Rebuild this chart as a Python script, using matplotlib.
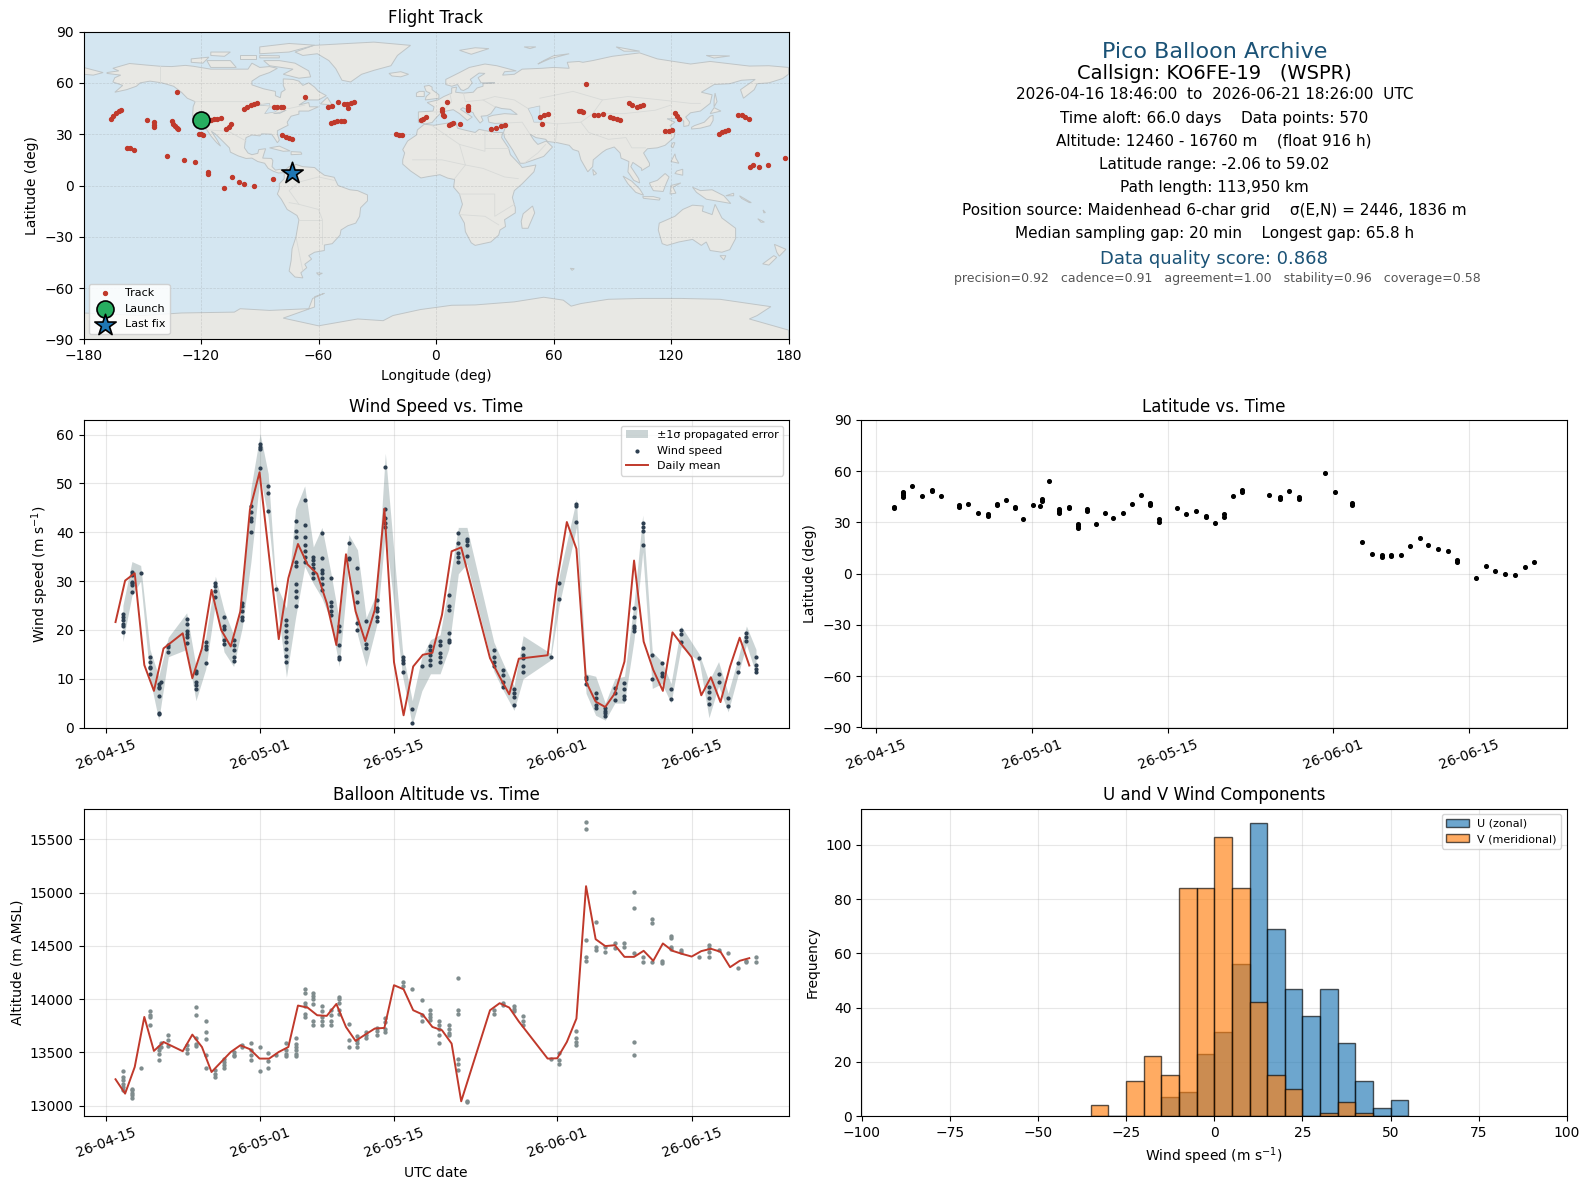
import matplotlib
matplotlib.use("Agg")
import matplotlib.dates as mdates
import matplotlib.pyplot as plt
import numpy as np
from matplotlib.patches import Polygon

# ============================================================
# Data
# ============================================================
DATE_ZERO = "2026-04-15"

# --- Daily means ---
DAILY_DATES = [
    "04-16", "04-17", "04-18", "04-19", "04-20", "04-21", "04-23", "04-24", "04-25", "04-26",
    "04-27", "04-28", "04-29", "04-30", "05-01", "05-02", "05-03", "05-04", "05-05", "05-06",
    "05-07", "05-08", "05-09", "05-10", "05-11", "05-12", "05-13", "05-14", "05-15", "05-16",
    "05-17", "05-18", "05-19", "05-20", "05-21", "05-22", "05-25", "05-26", "05-27", "05-28",
    "05-31", "06-01", "06-02", "06-03", "06-04", "06-05", "06-06", "06-07", "06-08", "06-09",
    "06-10", "06-11", "06-12", "06-13", "06-14", "06-15", "06-16", "06-17", "06-18", "06-19",
    "06-20", "06-21",
]
DAILY_WIND = [
    21.6, 30.1, 31.6, 12.8, 7.5, 16.2, 19.3, 10.1, 16.2, 28.2,
    20.0, 16.6, 23.8, 44.7, 52.3, 35.0, 18.1, 30.6, 37.6, 33.4,
    31.5, 25.5, 16.9, 35.5, 23.8, 17.7, 24.1, 44.8, 13.4, 2.5,
    12.5, 14.9, 15.3, 23.1, 36.1, 36.9, 14.2, 10.4, 6.8, 14.1,
    14.8, 30.3, 42.1, 36.6, 9.4, 5.3, 4.2, 7.0, 13.5, 34.2,
    17.6, 11.8, 7.5, 19.5, 16.9, 14.4, 6.6, 10.3, 5.2, 12.5,
    18.4, 12.7,
]
DAILY_ALT = [
    13248, 13113, 13363, 13833, 13514, 13598, 13511, 13667, 13551, 13316,
    13410, 13504, 13567, 13530, 13442, 13442, 13504, 13551, 13940, 13921,
    13849, 13843, 13955, 13739, 13608, 13667, 13724, 13730, 14131, 14093,
    13896, 13855, 13739, 13708, 13583, 13041, 13896, 13962, 13921, 13790,
    13442, 13445, 13598, 13818, 15061, 14563, 14498, 14507, 14397, 14397,
    14454, 14360, 14523, 14454, 14425, 14400, 14451, 14473, 14445, 14300,
    14360, 14385,
]

# --- Wind speed fixes, grouped by time (days after DATE_ZERO) ---
WIND_DAYS = [
    1.77, 2.71, 3.62, 4.59, 5.5, 5.7, 6.5, 8.41, 9.38, 10.4, 11.4, 12.3, 13.3, 14.2, 15.1, 16.06,
    16.9, 17.7, 18.8, 19.75, 20.7, 21.6, 22.5, 23.4, 24.3, 25.3, 26.2, 27.1, 28.2, 29.1, 30.9,
    31.9, 32.9, 33.8, 34.8, 35.7, 36.7, 37.6, 40.4, 41.4, 42.5, 43.45, 46.3, 47.2, 49.0, 50.0,
    51.0, 52.0, 53.0, 54.0, 55.0, 55.9, 56.9, 57.9, 58.85, 59.9, 61.8, 62.8, 63.8, 64.8, 65.8,
    66.7, 67.7,
]
WIND_VALUES = [
    [23.3, 22.7, 22.0, 21.3, 20.8, 19.5], [31.8, 31.2, 29.9, 29.6, 29.2, 27.7], [31.6],
    [14.4, 13.4, 12.3, 12.1, 11.0], [8.9, 8.4, 8.0, 6.4, 3.0, 2.7], [9.4], [16.9, 16.4, 15.5],
    [22.2, 21.2, 19.7, 19.2, 18.6, 17.3], [11.6, 11.1, 9.4, 8.7, 7.9], [17.6, 16.8, 16.1, 13.2],
    [29.6, 29.0, 27.9, 26.7], [22.6, 20.7, 20.1, 17.9, 17.1], [17.9, 16.9, 15.9, 14.4, 13.7],
    [25.5, 24.8, 23.8, 22.6, 22.1], [45.3, 44.1, 42.9, 42.3, 40.1], [58.0, 57.5, 57.0, 53.2],
    [49.5, 48.1, 44.3], [28.4], [22.1, 21.0, 19.7, 18.6, 17.6, 16.0, 14.7, 13.4],
    [42.3, 40.2, 39.0, 34.0, 33.0, 29.4, 27.9, 26.8, 24.8], [46.7, 41.5, 39.0, 37.3, 36.1, 35.0, 34.0],
    [35.0, 34.4, 33.6, 32.7, 31.6, 30.6], [39.9, 34.7, 32.3, 31.6, 30.6, 29.5, 28.2],
    [30.6, 25.8, 24.8, 23.8, 23.1], [20.8, 19.7, 16.9, 14.4, 14.0], [37.8, 34.7, 34.5],
    [32.7, 27.7, 25.8, 21.4, 20.0], [21.8, 17.1, 16.2], [26.2, 24.5, 23.8, 22.7, 21.9],
    [53.4, 44.7, 42.9, 41.9, 41.1], [14.5, 13.8, 13.2, 11.3], [3.7, 1.0], [12.5],
    [16.6, 15.9, 14.9, 13.8, 12.8], [17.8, 16.9, 15.3, 14.5, 13.5], [27.2, 24.8, 24.1, 19.3, 17.9, 17.5],
    [39.9, 37.8, 35.8, 35.0, 34.0], [38.6, 38.2, 37.3, 35.2], [15.9, 14.5, 13.5, 12.6],
    [11.8, 10.8, 9.4, 8.4], [7.8, 7.0, 6.2, 4.7], [16.2, 14.9, 14.2, 12.6, 11.3], [14.5],
    [29.7, 26.3], [45.7, 45.3, 42.1], [10.3, 9.9, 9.0], [7.0, 6.0, 4.6, 3.9], [3.9, 3.4, 2.9, 2.4],
    [8.0, 7.0, 5.6], [9.2, 7.8, 6.5, 5.8], [24.5, 22.7, 20.8, 20.3, 19.8], [41.8, 41.1, 40.3, 37.4],
    [14.9, 9.9], [13.2, 11.1, 10.6], [7.8, 5.8], [20.0, 19.2, 17.6], [14.2], [8.4, 7.3, 6.0, 4.9],
    [10.9, 9.4], [6.0, 4.4], [13.2, 11.4], [19.3, 18.5, 17.8], [14.5, 12.8, 11.9, 11.3],
]

# --- +/-1 sigma band ---
BAND_DAYS = [
    1.77, 2.71, 3.62, 4.59, 5.5, 6.5, 8.41, 9.38, 10.4, 11.4, 12.3, 13.3, 14.2, 15.1, 16.06, 16.9,
    17.7, 18.8, 19.75, 20.7, 21.6, 22.5, 23.4, 24.3, 25.3, 26.2, 27.1, 28.2, 29.1, 30.9, 31.9,
    32.9, 33.8, 34.8, 35.7, 36.7, 37.6, 40.4, 41.4, 42.5, 43.45, 46.3, 47.2, 49.0, 50.0, 51.0,
    52.0, 53.0, 54.0, 55.0, 55.9, 56.9, 57.9, 58.85, 59.9, 61.8, 62.8, 63.8, 64.8, 65.8, 66.7, 67.7,
]
BAND_LOW = [
    17.6, 27.0, 30.0, 10.0, 1.5, 14.5, 16.0, 5.5, 12.0, 25.5, 15.5, 12.5, 20.5, 33.9, 51.5, 43.0,
    27.5, 10.3, 22.5, 33.0, 29.5, 26.5, 22.0, 12.5, 33.5, 19.0, 12.5, 21.0, 40.0, 10.5, 0.5,
    7.5, 11.0, 11.0, 16.0, 31.5, 33.5, 11.5, 7.5, 3.5, 10.0, 13.8, 25.0, 41.0, 7.0, 2.5,
    1.5, 5.0, 5.0, 18.0, 36.0, 8.0, 9.0, 5.0, 16.5, 13.5, 2.0, 8.5, 3.2, 10.5, 17.0, 11.0,
]
BAND_HIGH = [
    25.0, 34.0, 33.2, 16.0, 10.5, 18.5, 23.5, 12.5, 18.5, 31.0, 24.0, 19.0, 27.0, 49.0, 60.2, 52.0,
    29.5, 24.5, 44.8, 49.5, 37.0, 41.0, 32.0, 22.0, 39.5, 36.4, 22.5, 27.5, 56.2, 15.5, 5.5,
    14.5, 18.0, 19.0, 29.0, 41.0, 41.0, 17.5, 13.0, 8.5, 18.8, 15.2, 31.0, 46.8, 11.0, 10.5,
    5.0, 10.0, 10.5, 25.5, 43.5, 15.5, 13.5, 9.0, 20.8, 15.0, 9.5, 13.5, 7.0, 14.0, 20.8, 16.0,
]

# --- Altitude fixes ---
ALT_DAYS = [
    1.77, 2.71, 3.62, 4.59, 5.5, 5.75, 6.5, 8.41, 9.38, 10.4, 11.4, 12.3, 13.3, 14.2, 15.1, 16.06,
    16.9, 17.7, 18.8, 19.75, 20.7, 21.6, 22.5, 23.4, 24.3, 25.3, 26.2, 27.1, 28.2, 29.1, 30.9,
    31.9, 32.9, 33.8, 34.7, 35.7, 36.7, 37.6, 40.4, 41.4, 42.5, 43.45, 46.3, 47.2, 49.0, 50.0,
    51.0, 52.0, 53.0, 54.0, 55.0, 55.9, 56.9, 57.9, 58.85, 59.9, 61.8, 62.8, 63.8, 64.8, 65.8,
    66.7, 67.7,
]
ALT_VALUES = [
    [13329, 13269, 13238, 13207, 13175, 13144], [13160, 13144, 13119, 13097, 13072], [13357],
    [13890, 13855, 13833, 13755], [13551, 13520, 13489, 13432], [13592, 13551], [13667, 13620, 13561],
    [13567, 13529, 13498], [13931, 13855, 13636, 13583, 13561], [13799, 13692, 13630, 13473, 13357],
    [13332, 13301, 13266], [13442, 13410, 13385, 13354], [13504, 13479, 13467], [13567, 13551],
    [13592, 13520, 13473, 13432], [13555, 13329], [13498, 13423, 13357], [13473],
    [13589, 13520, 13489, 13467], [13639, 13583, 13551, 13520, 13489, 13467],
    [14100, 14062, 13968, 13937, 13865, 13833], [14062, 14031, 13999, 13959, 13799, 13755],
    [13934, 13890, 13833, 13793, 13755], [13896, 13849, 13799, 13755],
    [14024, 13999, 13968, 13896, 13865], [13771, 13614, 13551], [13655, 13614, 13592, 13551],
    [13692, 13667, 13636], [13730, 13699, 13667], [13824, 13786, 13724, 13692], [14162, 14125],
    [14093], [13996, 13849, 13799], [13896, 13865, 13833, 13802], [13799, 13755, 13724, 13661, 13592],
    [13755, 13717, 13686, 13667], [14203, 13896, 13865, 13435, 13395, 13332], [13041, 13034],
    [13896, 13865], [13962, 13949], [13937, 13912, 13887], [13840, 13799, 13755], [13435],
    [13498, 13432, 13395], [13699, 13639, 13598, 13567], [15660, 15594, 14560, 14397, 14357],
    [14729, 14491, 14466], [14485, 14444], [14523, 14482], [14523, 14491],
    [15008, 14852, 14438, 13598, 13479], [14400, 14350], [14748, 14711, 14350], [14357, 14344],
    [14595, 14570, 14491, 14469], [14466, 14444], [14400], [14507, 14476, 14444, 14400], [14463],
    [14438], [14297], [14357, 14350], [14400, 14350],
]

# --- Latitude fixes ---
LAT_DAYS = [
    1.88, 2.8, 3.7, 4.7, 5.7, 6.7, 8.5, 9.5, 10.5, 11.5, 12.4, 13.35, 14.3, 15.1, 16.1, 16.9, 17.07,
    17.75, 18.85, 19.8, 20.8, 21.65, 22.6, 23.5, 24.4, 25.4, 26.3, 27.25, 28.2, 29.1, 30.9, 31.9,
    32.9, 33.9, 34.9, 35.8, 36.7, 37.6, 40.4, 41.5, 42.5, 43.45, 46.2, 47.15, 49.0, 49.95, 51.0,
    52.0, 53.0, 54.0, 54.9, 55.9, 56.8, 57.8, 58.8, 59.8, 61.7, 62.7, 63.7, 64.7, 65.7, 66.7, 67.7,
]
LAT_VALUES = [
    [38.2, 38.8], [44.7, 46.0, 47.0, 48.0], [51.2], [45.7], [48.2, 49.0], [45.5], [39.2, 40.0], [40.8],
    [35.7], [34.0, 35.0], [40.4, 41.0], [43.1], [38.2, 39.0], [31.8], [40.0], [39.6], [42.5, 44.0],
    [54.3], [35.7, 36.9, 38.0], [38.2, 39.0], [26.5, 27.8, 29.0], [37.0, 37.8], [29.4], [35.5], [32.9], [35.3],
    [40.8], [46.3], [40.0, 41.3], [30.5, 32.0], [38.2], [34.7], [37.0], [33.4, 34.0], [29.6],
    [33.5, 35.0], [45.3], [47.6, 48.8], [46.1], [43.8, 44.8], [48.2], [43.9, 44.7], [58.8], [47.6],
    [40.0, 41.5], [18.6], [11.6], [10.0, 10.8], [10.5, 11.2], [11.2], [16.1], [21.2], [17.0], [14.7],
    [13.1], [7.0, 8.0], [-2.3], [4.5], [1.8], [0.0], [-1.0], [3.7], [7.1],
]

# --- Flight track ---
TRACK_LON = [
    -166.1, -164.8, -163.4, -162.1, -161.0, -158.0, -156.3, -154.2, -147.8, -143.8, -143.8, -143.8,
    -134.6, -134.1, -133.4, -132.4, -131.7, -132.1, -137.4, -128.7, -123.0, -116.4, -116.4,
    -121.0, -120.0, -118.8, -115.0, -113.4, -111.6, -110.0, -107.0, -105.7, -104.5,
    -98.0, -96.3, -94.7, -92.9, -91.3, -82.7, -81.0, -79.3, -78.1, -66.7, -78.5, -76.8, -75.1, -73.4,
    -104.0, -100.4, -97.9, -93.0, -108.1, -83.1, -55.0, -53.3, -50.0, -53.8, -52.1, -50.4, -48.7, -47.0,
    -47.0, -45.3, -43.6, -41.9, -44.8, -20.6, -18.9, -17.2, -7.8, -6.5, -5.3,
    5.4, 2.9, 3.1, 3.4, 4.3, 6.5, 7.6, 8.9, 12.3, 16.5, 16.4, 16.2,
    28.1, 30.6, 33.2, 35.4, 53.1, 55.0, 57.0, 54.3, 73.2, 74.2, 75.2, 76.8, 80.9, 82.9, 85.1,
    89.0, 90.6, 92.3, 94.0, 98.4, 99.9, 102.6, 104.2, 105.5, 117.1, 118.8, 120.5, 122.2, 123.2, 124.3,
    144.3, 146.0, 147.7, 149.1, 154.0, 156.1, 158.0, 159.7, 164.1, 160.5, 161.7, 164.8, 169.5, 178.4,
]
TRACK_LAT = [
    39.0, 40.8, 42.1, 43.3, 44.3, 21.9, 21.7, 21.0, 38.4, 37.0, 35.6, 34.3,
    37.5, 35.7, 34.5, 33.6, 32.8, 54.4, 17.0, 15.0, 13.5, 7.8, 6.9,
    30.3, 30.0, 29.7, 38.4, 38.6, 39.0, 39.4, 32.8, 34.3, 35.7,
    44.5, 45.6, 46.8, 47.8, 48.4, 45.6, 45.6, 45.6, 45.6, 51.5, 29.3, 28.5, 27.9, 27.3,
    4.7, 1.8, 0.6, -0.4, -1.6, 3.9, 45.8, 46.4, 48.9, 36.7, 37.1, 37.5, 37.5, 37.7,
    47.4, 47.8, 48.2, 48.7, 45.4, 29.9, 29.5, 29.7, 38.2, 39.0, 40.2,
    48.6, 44.5, 43.3, 41.0, 40.4, 35.1, 35.7, 36.3, 35.7, 46.4, 45.2, 43.9,
    32.8, 33.7, 34.7, 35.1, 40.2, 41.0, 41.7, 35.7, 43.3, 43.3, 42.9, 59.1, 41.0, 41.2, 41.7,
    39.8, 39.2, 38.8, 38.4, 48.0, 47.2, 46.0, 46.4, 47.2, 31.6, 32.0, 32.4, 42.3, 40.6, 38.6,
    30.2, 31.0, 31.8, 32.6, 41.0, 41.0, 39.8, 39.0, 18.7, 10.6, 11.7, 11.1, 11.7, 16.2,
]
LAUNCH_LON, LAUNCH_LAT = -119.8, 38.4
LAST_LON, LAST_LAT = -73.4, 7.4

# --- Wind component histogram ---
BIN_EDGES = [-35, -30, -25, -20, -15, -10, -5, 0, 5, 10, 15, 20, 25, 30, 35, 40, 45, 50]
U_COUNTS = [0, 0, 0, 0, 7, 9, 23, 31, 56, 108, 69, 47, 37, 47, 27, 13, 3, 6]
V_COUNTS = [4, 0, 13, 22, 15, 84, 84, 103, 84, 42, 15, 10, 0, 1, 5, 1, 0, 0]

# --- Summary panel ---
SUMMARY_LINES = [
    "2026-04-16 18:46:00  to  2026-06-21 18:26:00  UTC",
    "Time aloft: 66.0 days    Data points: 570",
    "Altitude: 12460 - 16760 m    (float 916 h)",
    "Latitude range: -2.06 to 59.02",
    "Path length: 113,950 km",
    "Position source: Maidenhead 6-char grid    σ(E,N) = 2446, 1836 m",
    "Median sampling gap: 20 min    Longest gap: 65.8 h",
]
TICK_DATES = ["2026-04-15", "2026-05-01", "2026-05-15", "2026-06-01", "2026-06-15"]

# --- Coarse map outlines (lon, lat) ---
LAND = [
    # North America
    [(-168, 66), (-162, 67), (-165, 68.5), (-156.5, 71.3), (-148, 70.4), (-141, 69.7), (-135, 69.5), (-128, 70.2),
     (-124, 69.7), (-115, 68), (-108, 68), (-102, 68), (-96, 68), (-94, 71.5), (-90, 69), (-85, 69.5), (-81, 68.5),
     (-85, 66), (-90, 64), (-94, 61), (-94, 58.8), (-88, 56.5), (-82, 55), (-82, 52.5), (-79.5, 51.3), (-79, 54.5),
     (-77, 56), (-78, 58.5), (-78, 62.3), (-73, 62), (-70, 61), (-68, 58.5), (-65, 60), (-62, 57.5), (-60, 55),
     (-56, 52.5), (-60, 50), (-66, 50), (-70, 47), (-65, 48.5), (-64.5, 46), (-60, 46), (-65, 43.5), (-70, 43.5),
     (-70, 41.7), (-74, 40.5), (-76, 37), (-75.5, 35.2), (-78, 33.8), (-81, 32), (-81, 30), (-80, 26.5), (-81, 25),
     (-82.7, 28), (-84, 30), (-89, 30.2), (-90, 29), (-94, 29.5), (-97, 28), (-97.5, 25), (-97.8, 22), (-96, 19),
     (-94, 18), (-91, 18.8), (-90.5, 21), (-87, 21.5), (-88, 18), (-88.5, 16), (-84, 15.8), (-83.3, 14.5), (-83.7, 11),
     (-82, 9), (-79.5, 9.5), (-77.5, 8.7), (-78, 7.5), (-80.5, 7.3), (-83, 8.3), (-85.7, 10), (-87.5, 13), (-91, 14),
     (-94, 16), (-97, 15.8), (-101, 17.3), (-105, 19.5), (-105.5, 22), (-109, 26), (-112.5, 30), (-114.7, 31.7),
     (-112, 27), (-110, 23), (-112, 25), (-115, 29), (-117, 32.5), (-120.5, 34.5), (-122.5, 37.5), (-124.3, 40.3),
     (-124, 46), (-123, 49), (-127, 51), (-130, 54.5), (-134, 58), (-140, 60), (-146, 61), (-151, 60), (-153, 58),
     (-158, 56), (-164, 54.5), (-160, 58.5), (-165, 60.5), (-164, 63), (-161, 64.5), (-168, 65.5)],
    # Greenland and the Arctic islands
    [(-62.3, 81.9), (-45, 83), (-31.7, 83.8), (-13, 81.9), (-19.7, 76), (-23, 70), (-31.7, 67.3), (-38, 65), (-43.6, 60.5),
     (-48, 61.5), (-51.2, 68.3), (-54.7, 73), (-60.6, 77), (-68, 76), (-72, 78)],
    [(-80, 73), (-72, 71.5), (-65, 67), (-64, 63.5), (-70, 62.7), (-78, 65), (-73, 68), (-85, 70), (-88, 73)],
    [(-117, 73), (-105, 73), (-102, 69), (-115, 69)],
    [(-90, 77), (-75, 78), (-62, 82), (-75, 83), (-90, 81)],
    [(-125, 74), (-116, 75), (-119, 71.5), (-125, 72)],
    [(-100, 76), (-92, 76), (-92, 74), (-100, 74)],
    [(-115, 78), (-105, 78), (-108, 75.5), (-115, 76)],
    [(-90, 76), (-80, 75.8), (-80, 74.6), (-90, 74.6)],
    # Atlantic and Caribbean islands
    [(-59, 47.7), (-53, 47), (-55.5, 51.5)],
    [(-85, 22), (-80, 23), (-74.5, 20.2), (-78, 20)],
    [(-74, 19.8), (-69, 19.5), (-68.5, 18.3), (-74, 18)],
    [(-24, 65.5), (-18, 66.5), (-14, 65), (-18, 63.5), (-22.5, 64)],
    [(-5.5, 50), (1.5, 51), (1.5, 53), (-2, 56), (-2, 57.5), (-3.5, 58.5), (-6, 58), (-5, 55), (-3, 54), (-5, 52)],
    [(-10, 52), (-6, 52), (-6, 55), (-8.5, 55), (-10, 54)],
    [(12, 79), (20, 80.5), (27, 80), (18, 76.7)],
    [(52, 71), (58, 74), (68, 77), (60, 75.8), (55, 73)],
    [(92, 81), (104, 78.5), (96, 78.5)],
    [(138, 76), (150, 75.7), (142, 74.5)],
    [(45, 81), (51, 81), (48, 80)],
    [(-61, -51), (-58, -51.3), (-60, -52.3)],
    [(68.6, -48.4), (70.6, -48.6), (69.5, -49.6)],
    # South America
    [(-77.5, 8.7), (-75, 11), (-71.5, 12.3), (-68, 11), (-62, 10.5), (-60, 8.5), (-57, 6), (-52, 4.8), (-50, 0),
     (-44, -2.5), (-40, -3), (-35, -5.5), (-35, -9), (-38.5, -13), (-39, -18), (-41, -22), (-45, -23.5), (-48.5, -26),
     (-49, -29), (-53, -34), (-57, -34.8), (-57, -38), (-62, -39), (-65, -41), (-63.5, -43), (-67, -46), (-66, -48),
     (-69, -51), (-68, -54), (-72, -53.5), (-75, -50), (-74, -44), (-73.5, -37), (-71.5, -30), (-70, -20), (-71, -17.5),
     (-76, -14), (-79, -8), (-81, -5), (-80, -2), (-80, 1), (-77.5, 4), (-77.5, 7)],
    # Africa
    [(-6, 35.8), (-1, 35.2), (10, 37.2), (11, 33.5), (15, 32.3), (20, 31), (22, 32.8), (30, 31), (34, 31), (33.5, 28),
     (37, 22), (38, 18), (43, 12), (44, 10.5), (51, 12), (50, 8), (44, 1), (40, -3), (39, -7), (40.5, -13), (40.5, -16),
     (35, -20), (35.5, -24), (32.7, -26), (32, -29), (28, -33), (20, -35), (18, -33.5), (15, -27), (14.5, -22),
     (11.8, -16.5), (13.5, -11), (12, -5), (9, -1), (9.5, 3.5), (6, 4.3), (2, 6.3), (-4, 5.2), (-7.7, 4.4), (-13, 8.5),
     (-17, 12.5), (-17, 15), (-16, 19), (-17, 21), (-14.5, 26), (-10, 29.5), (-9.5, 32.5)],
    [(49.3, -12), (50.4, -16), (47, -25), (44, -25), (43.5, -21), (44.5, -16.5)],
    # Eurasia
    [(-9, 37), (-9, 43), (-1.5, 43.5), (-1, 46), (-4.5, 48.5), (1, 50), (4, 52), (8, 54), (8, 57), (10.5, 57.5),
     (10, 54.5), (14, 54), (19, 54.5), (21, 57), (24, 58), (24, 59.5), (30, 60), (23, 60), (21.5, 63), (25, 65.5),
     (22, 65.7), (17.5, 62), (18.5, 60), (16.5, 57), (14, 55.5), (12.7, 56), (11, 59), (8, 58), (5, 59), (5, 62),
     (12, 66), (17, 69), (25, 71), (31, 70), (41, 67), (35, 66.5), (34, 64.5), (40, 65), (44, 68), (54, 68.5), (60, 69),
     (68, 68.5), (67, 72), (73, 72.5), (75, 72), (80, 73), (90, 75.5), (104, 77.5), (113, 74), (130, 71), (140, 72.5),
     (160, 69.8), (170, 70), (180, 69), (180, 65), (177, 62.5), (170, 60), (164, 59.5), (162.5, 56), (157, 51),
     (155.5, 56), (163, 62), (156, 61.5), (150, 59.5), (142, 59), (135.5, 54.5), (141, 53), (140, 48), (135, 43.5),
     (130, 42.5), (127.5, 40), (129.5, 37), (129, 35), (126.5, 34.5), (126.5, 37.5), (125, 39.5), (121.5, 39), (118, 39),
     (122, 37), (119.5, 35), (122, 31), (121.5, 28), (117, 23.5), (113, 22), (108, 21.5), (106, 19), (109, 13),
     (109, 11.5), (105, 8.7), (105, 10), (100.5, 13.5), (99.5, 11), (103.5, 4), (104, 1.5), (101, 3), (98, 8), (98.5, 14),
     (94.5, 16), (94, 19), (91, 22.5), (87, 21), (85, 19.5), (80.3, 15), (80, 11), (77.5, 8), (74, 15), (72.8, 20), (70, 21),
     (68, 23.5), (62, 25), (57, 25.7), (56, 27), (51, 28), (48, 30), (50, 26.5), (52, 24), (56.3, 26), (59.5, 22.5),
     (55, 17), (45, 13), (43, 13), (39, 21), (35, 28), (34.5, 31), (36, 36.5), (30, 36.3), (27, 37), (26.5, 40), (29, 41),
     (35, 42), (41.5, 41.5), (38, 44.5), (33.5, 45), (30.5, 46), (28, 42), (26, 40.8), (23, 40.5), (24, 38), (22.5, 36.5),
     (19.5, 41), (19, 42.5), (13.7, 45.5), (12.5, 44.5), (18.5, 40), (16, 38), (12, 42), (8.8, 44.3), (3, 43), (0, 39.5),
     (-2, 36.8), (-5.5, 36)],
    [(-180, 65), (-175, 64.5), (-170, 66), (-175, 67.5), (-180, 69)],
    # Asia-Pacific islands
    [(130.5, 33), (135, 33.5), (140, 35), (141.5, 38), (141.5, 41), (140, 40.5), (137, 37), (132, 35), (130.5, 34)],
    [(140, 42), (145.5, 43.5), (142, 45.5)],
    [(142, 46), (143.5, 49), (142.5, 54), (142, 50)],
    [(120, 23), (121, 25), (122, 25), (121, 22)],
    [(120, 14), (122, 18.5), (122.5, 16), (124, 13)],
    [(122, 7), (126, 6), (126, 9.5), (123, 8.5)],
    [(109, 1.5), (113, 3), (117, 7), (119, 5), (117.5, 1), (116, -3.5), (111, -3), (109.5, 0)],
    [(95.5, 5.5), (100, 2.5), (104, -2), (106, -5.7), (102, -4), (98, 1)],
    [(105.5, -6.5), (111, -6.5), (114.5, -7.5), (114, -8.5), (106, -7.5)],
    [(119.5, -5), (120, 0), (125, 1.5), (121, -1), (122.5, -4.5)],
    [(131, -1), (135, -3), (141, -2.5), (147, -6), (150.5, -10.5), (143, -9), (138, -8), (133, -4)],
    [(148, -6), (152, -4.5), (152, -6)],
    [(155, -6), (161, -10), (160, -10), (156, -7.5)],
    [(164.3, -19.4), (167.7, -21.4), (166, -21.5)],
    [(167, -14.3), (168.2, -15.8), (167.4, -16)],
    [(80, 9.5), (82, 7), (80.5, 6)],
    # Australia and New Zealand
    [(114, -22), (113.5, -26), (115.5, -34), (118, -35), (124, -33), (131, -31.5), (135.5, -35), (138, -33), (140, -38),
     (146, -39), (150, -37.5), (153, -31), (153, -25), (146, -19), (142.5, -11), (141, -17), (136, -15), (136.5, -12),
     (131, -11.5), (126, -14), (122, -18)],
    [(145, -41), (148, -41), (147, -43.5)],
    [(172.8, -34.4), (178.7, -37.3), (175.3, -41.3), (174, -39)],
    [(172.5, -41), (174, -42), (170, -46.5), (166.8, -45.8)],
    # Antarctica
    [(-180, -90), (-180, -74.5), (-150, -76), (-130, -74.5), (-103, -74), (-100, -72), (-85, -73), (-65, -72), (-63, -66),
     (-57, -63), (-62, -65), (-62, -71), (-78, -77.5), (-60, -82), (-40, -78), (-27, -79), (-22, -76), (-8, -72.5), (8, -70),
     (20, -69.8), (40, -68), (55, -65.3), (65, -67), (69, -70.5), (74, -69), (88, -66.5), (105, -66),
     (125, -66), (145, -66.5), (160, -69), (171, -70.8), (164, -76), (160, -78), (180, -84.5), (180, -90)],
]
LAKES = [
    [(47, 45), (53, 46.5), (53, 40), (54, 37), (50, 37), (49, 40.5)],
    [(-92, 47), (-85, 48), (-85, 46.5)],
    [(-87.5, 42), (-85, 46), (-80, 45.5), (-82, 43)],
    [(-83, 42), (-79, 43), (-76.5, 44), (-80, 42)],
]
BORDERS = [
    [(-141, 69.7), (-141, 60)],
    [(-123, 49), (-95, 49), (-83, 46), (-75, 45), (-67, 47)],
    [(-117, 32.5), (-106, 31.7), (-97, 26)],
    [(-70, -20), (-58, -20), (-58, -34)],
    [(-75, -10), (-70, -11), (-60, -14), (-58, -20)],
    [(-72, 12), (-70, 2), (-60, 5), (-52, 3)],
    [(-70, 2), (-75, -3), (-70, -11)],
    [(-71.5, -30), (-68, -50)],
    [(-2, 35), (12, 24), (25, 20), (25, 32)],
    [(25, 22), (37, 22)],
    [(12, 24), (15, 12), (24, 10), (35, 5), (42, 4)],
    [(-12, 15), (3, 15), (15, 12)],
    [(9.5, 4), (15, 12)],
    [(12, -5), (30, -5), (30, -18), (40, -11)],
    [(12, -17), (25, -18), (32, -23)],
    [(-1, 43), (3, 43), (8, 49), (7, 54)],
    [(14, 54), (15, 49), (24, 50), (30, 46)],
    [(24, 50), (30, 52), (40, 50), (47, 45)],
    [(53, 51), (70, 55), (85, 50), (98, 52), (115, 50), (130, 48), (135, 48)],
    [(85, 50), (80, 42), (74, 37), (62, 36), (54, 37)],
    [(80, 42), (96, 42), (112, 44), (120, 47)],
    [(74, 37), (78, 31), (88, 27), (97, 28), (100, 22), (107, 22)],
    [(62, 36), (61, 25)],
    [(36, 36.5), (44, 37), (48, 30)],
    [(45, 13), (52, 19), (56, 24)],
]

# ============================================================
# Colours and layout
# ============================================================
RED = "#c0392b"
NAVY = "#2c3e50"
GRAY = "#7f8c8d"
BAND = "#557376"
TITLE_BLUE = "#1a5276"
FIG_W, FIG_H = 1589, 1189
# Latitude has no daily-mean line, so its margin starts later than the other time panels
WIDE_XLIM = ("2026-04-12T16:00", "2026-06-25T02:00")
LAT_XLIM = ("2026-04-13T12:00", "2026-06-25T01:30")


def add_axes_px(fig, left, top, right, bottom):
    return fig.add_axes([left / FIG_W, 1 - bottom / FIG_H, (right - left) / FIG_W, (bottom - top) / FIG_H])


def to_num(days):
    return mdates.date2num(np.datetime64(DATE_ZERO)) + np.array(days, dtype=float)


def flatten(days, groups):
    xs = []
    ys = []
    for day, values in zip(days, groups):
        for value in values:
            xs.append(day)
            ys.append(value)
    return to_num(xs), np.array(ys)


def format_dates(ax, xlim=WIDE_XLIM):
    ax.set_xticks(mdates.date2num(np.array(TICK_DATES, dtype="datetime64[D]")))
    ax.xaxis.set_major_formatter(mdates.DateFormatter("%y-%m-%d"))
    ax.tick_params(axis="x", labelrotation=20)
    ax.set_xlim(mdates.date2num(np.datetime64(xlim[0])), mdates.date2num(np.datetime64(xlim[1])))
    ax.grid(True, alpha=0.3)
    ax.set_axisbelow(True)


fig = plt.figure(figsize=(FIG_W / 100, FIG_H / 100), dpi=100)
daily_x = mdates.date2num(np.array(["2026-" + d for d in DAILY_DATES], dtype="datetime64[D]"))

# --- Flight track map ---
ax_map = add_axes_px(fig, 83.5, 31.5, 788.5, 339.5)
ax_map.set_facecolor("#d4e6f1")
for outline in LAND:
    ax_map.add_patch(Polygon(outline, closed=True, facecolor="#e8e8e4", edgecolor="#bfc5c7", linewidth=0.7, zorder=1))
for outline in LAKES:
    ax_map.add_patch(Polygon(outline, closed=True, facecolor="#d4e6f1", edgecolor="#bfc5c7", linewidth=0.5, zorder=1.1))
for line in BORDERS:
    lons, lats = zip(*line)
    ax_map.plot(lons, lats, color="#d8dad8", linewidth=0.6, zorder=1.2)
ax_map.scatter(TRACK_LON, TRACK_LAT, s=8, color=RED, zorder=3, label="Track")
ax_map.scatter(LAUNCH_LON, LAUNCH_LAT, s=150, color="#27ae60", edgecolor="black", linewidth=1.2, zorder=4, label="Launch")
ax_map.scatter(LAST_LON, LAST_LAT, s=260, marker="*", color="#1f77b4", edgecolor="black", linewidth=1.2, zorder=4, label="Last fix")
ax_map.set_xlim(-180, 180)
ax_map.set_ylim(-90, 90)
ax_map.set_xticks(np.arange(-180, 181, 60))
ax_map.set_yticks(np.arange(-90, 91, 30))
ax_map.grid(True, color="gray", alpha=0.25, linewidth=0.5, linestyle="--", zorder=2)
ax_map.set_xlabel("Longitude (deg)")
ax_map.set_ylabel("Latitude (deg)")
ax_map.set_title("Flight Track", fontsize=12)
ax_map.legend(loc="lower left", fontsize=8, framealpha=0.85)

# --- Summary panel ---
ax_info = add_axes_px(fig, 861.5, 31.5, 1567, 339.5)
ax_info.axis("off")
ax_info.text(0.5, 0.935, "Pico Balloon Archive", fontsize=16, color=TITLE_BLUE, ha="center", va="center", transform=ax_info.transAxes)
ax_info.text(0.5, 0.865, "Callsign: KO6FE-19   (WSPR)", fontsize=14, ha="center", va="center", transform=ax_info.transAxes)
for line, frac in zip(SUMMARY_LINES, [0.796, 0.719, 0.645, 0.569, 0.494, 0.418, 0.344]):
    ax_info.text(0.5, frac, line, fontsize=11, ha="center", va="center", transform=ax_info.transAxes)
ax_info.text(0.5, 0.262, "Data quality score: 0.868", fontsize=13, color=TITLE_BLUE, ha="center", va="center", transform=ax_info.transAxes)
ax_info.text(0.505, 0.199, "precision=0.92   cadence=0.91   agreement=1.00   stability=0.96   coverage=0.58",
             fontsize=9, color="#555555", ha="center", va="center", transform=ax_info.transAxes)

# --- Wind speed ---
ax_wind = add_axes_px(fig, 83.5, 420, 788.5, 727.5)
ax_wind.fill_between(to_num(BAND_DAYS), BAND_LOW, BAND_HIGH, color=BAND, alpha=0.3, linewidth=0, label="±1σ propagated error")
wind_x, wind_y = flatten(WIND_DAYS, WIND_VALUES)
ax_wind.scatter(wind_x, wind_y, s=4, color=NAVY, label="Wind speed")
ax_wind.plot(daily_x, DAILY_WIND, color=RED, linewidth=1.4, label="Daily mean")
format_dates(ax_wind)
ax_wind.set_ylim(0, 63)
ax_wind.set_ylabel("Wind speed (m s$^{-1}$)")
ax_wind.set_title("Wind Speed vs. Time", fontsize=12)
ax_wind.legend(loc="upper right", fontsize=8)

# --- Latitude ---
ax_lat = add_axes_px(fig, 861.5, 420, 1567, 727.5)
lat_x, lat_y = flatten(LAT_DAYS, LAT_VALUES)
ax_lat.scatter(lat_x, lat_y, s=7, color="black")
format_dates(ax_lat, LAT_XLIM)
ax_lat.set_ylim(-90, 90)
ax_lat.set_yticks(np.arange(-90, 91, 30))
ax_lat.set_ylabel("Latitude (deg)")
ax_lat.set_title("Latitude vs. Time", fontsize=12)

# --- Altitude ---
ax_alt = add_axes_px(fig, 83.5, 808.5, 788.5, 1116)
alt_x, alt_y = flatten(ALT_DAYS, ALT_VALUES)
ax_alt.scatter(alt_x, alt_y, s=4.5, color=GRAY)
ax_alt.plot(daily_x, DAILY_ALT, color=RED, linewidth=1.4)
format_dates(ax_alt)
ax_alt.set_ylim(12903, 15790)
ax_alt.set_yticks(np.arange(13000, 15501, 500))
ax_alt.set_xlabel("UTC date")
ax_alt.set_ylabel("Altitude (m AMSL)")
ax_alt.set_title("Balloon Altitude vs. Time", fontsize=12)

# --- Histogram ---
ax_hist = add_axes_px(fig, 861.5, 808.5, 1567, 1116)
ax_hist.bar(BIN_EDGES, U_COUNTS, width=5, align="edge", color="#1f77b4", alpha=0.65, edgecolor="black", label="U (zonal)")
ax_hist.bar(BIN_EDGES, V_COUNTS, width=5, align="edge", color="#ff7f0e", alpha=0.65, edgecolor="black", label="V (meridional)")
ax_hist.set_xlim(-100, 100)
ax_hist.set_ylim(0, 113.4)
ax_hist.set_yticks(np.arange(0, 101, 20))
ax_hist.grid(True, alpha=0.3)
ax_hist.set_axisbelow(True)
ax_hist.set_xlabel("Wind speed (m s$^{-1}$)")
ax_hist.set_ylabel("Frequency")
ax_hist.set_title("U and V Wind Components", fontsize=12)
ax_hist.legend(loc="upper right", fontsize=8)

fig.savefig("out.png", dpi=100)
